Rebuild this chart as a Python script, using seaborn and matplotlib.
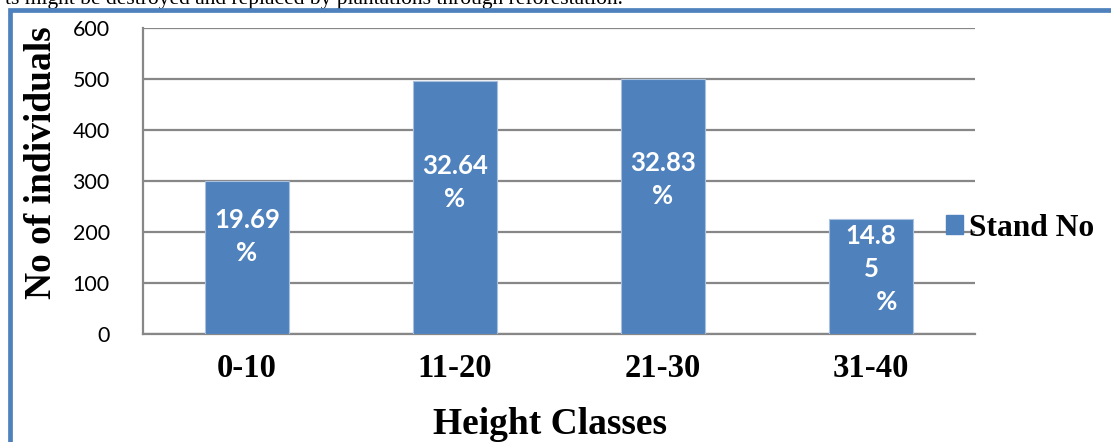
import matplotlib
matplotlib.use("Agg")
import matplotlib.pyplot as plt
import seaborn as sns
import pandas as pd
from matplotlib.patches import Rectangle, Patch

# ---- data ----
categories = ["0-10", "11-20", "21-30", "31-40"]
stand_no = [300, 497, 500, 226]
pct_labels = ["19.69\n%", "32.64\n%", "32.83\n%", "14.8\n5\n     %"]
y_ticks = [0, 100, 200, 300, 400, 500, 600]
series_name = "Stand No"
x_title = "Height Classes"
y_title = "No of individuals"
top_text = "ts might be destroyed and replaced by plantations through reforestation."

sns.set_style("white")
plt.rcParams["font.family"] = ["Lato", "DejaVu Sans"]
plt.rcParams["text.color"] = "black"
plt.rcParams["xtick.color"] = "black"
plt.rcParams["ytick.color"] = "black"
plt.rcParams["axes.labelcolor"] = "black"

W, H = 1111, 442
fig = plt.figure(figsize=(W / 100, H / 100), dpi=100)
ax = fig.add_axes([143 / W, 1 - 334 / H, 832 / W, 306 / H])

df = pd.DataFrame({"cls": categories, "n": stand_no})
bar_color = "#4F81BD"
sns.barplot(data=df, x="cls", y="n", color=bar_color, width=0.4, ax=ax,
            saturation=1, edgecolor="#A9C0DF", linewidth=0.8, zorder=3)

ax.set_ylim(0, 600)
ax.set_xlim(-0.5, 3.5)
ax.set_yticks(y_ticks)
ax.yaxis.grid(True, color="#878787", linewidth=1.6, zorder=0)
ax.set_axisbelow(True)
for s in ["top", "right"]:
    ax.spines[s].set_visible(False)
ax.spines["left"].set_color("#878787")
ax.spines["left"].set_linewidth(1.6)
ax.spines["bottom"].set_color("#878787")
ax.spines["bottom"].set_linewidth(1.6)
ax.tick_params(axis="y", direction="out", length=6, width=1.6, color="#878787",
               labelcolor="black", pad=18, labelsize=15.5)
ax.tick_params(axis="x", length=0, pad=14, labelcolor="black")
for lab in ax.get_yticklabels():
    lab.set_fontfamily(["Lato", "DejaVu Sans"])
for lab in ax.get_xticklabels():
    lab.set_fontfamily("Liberation Serif")
    lab.set_fontweight("bold")
    lab.set_fontsize(23.5)
ax.set_xlabel("")
ax.set_ylabel("")

# bar labels
offsets_pt = [15, 18, 19.5, 5]
for i, (v, t) in enumerate(zip(stand_no, pct_labels)):
    ax.annotate(t, xy=(i, v / 2), xytext=(0, offsets_pt[i]), textcoords="offset points",
                ha="center", va="center", color="white", fontsize=18.5,
                fontweight="bold", linespacing=1.45, zorder=5)

# axis titles
fig.text(550 / W, 1 - 424 / H, x_title, ha="center", va="center", color="black",
         fontfamily="Liberation Serif", fontweight="bold", fontsize=27)
fig.text(42 / W, 1 - 163 / H, y_title, ha="center", va="center", rotation=90,
         color="black", fontfamily="Liberation Serif", fontweight="bold", fontsize=27)

# legend
leg = ax.legend(handles=[Patch(facecolor=bar_color, edgecolor=bar_color, label=series_name)],
                loc="center left", bbox_to_anchor=(946 / W, 1 - 228.5 / H),
                bbox_transform=fig.transFigure, frameon=False, borderpad=0,
                borderaxespad=0, handlelength=0.54, handleheight=0.54,
                handletextpad=0.2, labelcolor="black",
                prop={"family": "Liberation Serif", "weight": "bold", "size": 22.7})

# chart frame border (blue) and cut-off page text
fig.patches.append(Rectangle((9.5 / W, -0.2), 1.2, 1 - 10 / H + 0.2,
                             transform=fig.transFigure, fill=False,
                             edgecolor="#4F81BD", linewidth=3.4, zorder=10))
fig.text(623 / W, 1 - 4 / H, top_text, ha="right", va="baseline",
         fontfamily="Liberation Serif", fontsize=15.5, color="black")

fig.savefig("out.png", dpi=100)
